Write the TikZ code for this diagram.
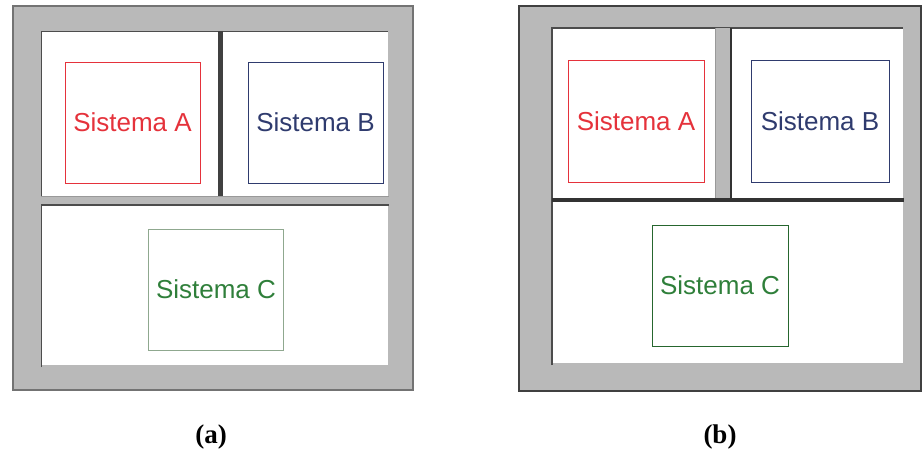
\documentclass[tikz,border=0pt]{standalone}
\usepackage{fontspec}
\setmainfont{Liberation Serif}
\newfontfamily\sysfont{Liberation Sans}
\usepackage{tikz}
\definecolor{wallgray}{HTML}{B9B9B9}
\definecolor{sysred}{HTML}{E5323B}
\definecolor{sysblue}{HTML}{2F3B6E}
\definecolor{sysgreen}{HTML}{2F7F3A}
\definecolor{paleline}{HTML}{8FA88F}

\begin{document}
\begin{tikzpicture}[x=1pt, y=-1pt,
  sysbox/.style={draw, line width=0.9pt, minimum width=135pt, minimum height=121pt, inner sep=0pt, font=\sysfont\fontsize{26}{30}\selectfont},
  wall/.style={fill=wallgray},
  edge/.style={line width=1pt, black!70},
  caption/.style={font=\fontsize{27}{30}\selectfont\bfseries}
]
\useasboundingbox (0,0) rectangle (922,450);
\fill[white] (0,0) rectangle (922,450);

% Panel (a)
\draw[wall, draw=gray!90!black, line width=1.5pt] (13,6) rectangle (413,390);
\fill[white] (41,31) rectangle (388,365);
\draw[edge] (41,367) -- (41,31) -- (388,31);
\fill[black!75] (218,31) rectangle (223,196);
\fill[wallgray] (41,196) rectangle (389,205);
\draw[black!40, line width=0.5pt] (41,196) -- (389,196);
\draw[black!70, line width=1.5pt] (41,205) -- (389,205);

\node[sysbox, draw=sysred, text=sysred] (sysAa) at (132.5,122.5) {Sistema A};
\node[sysbox, draw=sysblue, text=sysblue] (sysBa) at (315.5,122.5) {Sistema B};
\node[sysbox, draw=paleline, text=sysgreen] (sysCa) at (216,289.5) {Sistema C};

% Panel (b)
\draw[wall, draw=black!75, line width=2pt] (519,6) rectangle (921,391);
\fill[white] (552,28) rectangle (903,363);
\draw[edge, line width=1.5pt] (552,365) -- (552,28) -- (903,28);
\fill[wallgray] (715,28) rectangle (731,200);
\draw[black!40, line width=0.5pt] (715,28) -- (715,200);
\draw[black!80, line width=1.5pt] (731,28) -- (731,200);
\draw[black!80, line width=3.5pt] (552,200) -- (904,200);

\node[sysbox, draw=sysred, text=sysred, minimum width=136pt, minimum height=122pt] (sysAb) at (636,121) {Sistema A};
\node[sysbox, draw=sysblue, text=sysblue, minimum width=138pt, minimum height=122pt] (sysBb) at (820,121) {Sistema B};
\node[sysbox, draw=sysgreen!80!black, text=sysgreen, minimum width=136pt, minimum height=121pt] (sysCb) at (720,285.5) {Sistema C};

% Captions
\node[caption] (capa) at (211,437) {(a)};
\node[caption] (capb) at (720,437) {(b)};
\end{tikzpicture}
\end{document}
